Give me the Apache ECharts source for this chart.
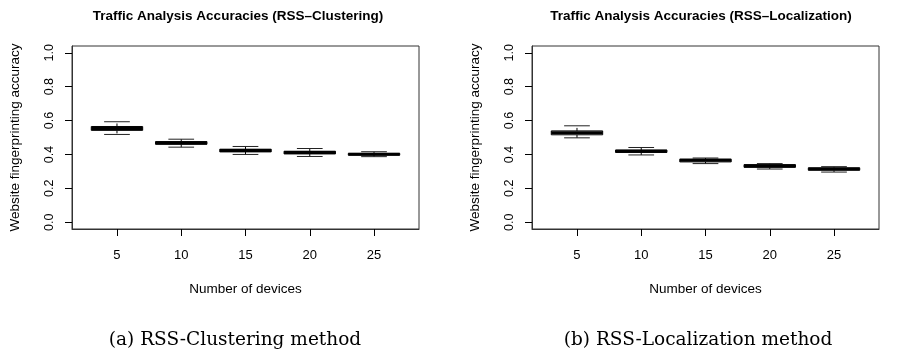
<!DOCTYPE html>
<html>
<head>
<meta charset="utf-8">
<script src="https://cdn.jsdelivr.net/npm/echarts@6/dist/echarts.min.js"></script>
<style>
  html, body { margin: 0; padding: 0; background: #fff; }
  #main { width: 905px; height: 355px; }
</style>
</head>
<body>
<div id="main"></div>
<script>
// x categories
const devices = ['5', '10', '15', '20', '25'];
const yTicks = [0, 0.2, 0.4, 0.6, 0.8, 1.0];

// RSS-Clustering: whisker low, Q1, median, Q3, whisker high
const clusterMin = [0.518, 0.443, 0.400, 0.388, 0.387];
const clusterQ1  = [0.542, 0.460, 0.415, 0.403, 0.396];
const clusterMed = [0.553, 0.468, 0.423, 0.411, 0.401];
const clusterQ3  = [0.565, 0.476, 0.431, 0.419, 0.406];
const clusterMax = [0.593, 0.490, 0.447, 0.435, 0.416];

// RSS-Localization
const localMin = [0.498, 0.397, 0.346, 0.314, 0.296];
const localQ1  = [0.516, 0.412, 0.356, 0.324, 0.307];
const localMed = [0.528, 0.419, 0.366, 0.332, 0.314];
const localQ3  = [0.539, 0.426, 0.372, 0.340, 0.321];
const localMax = [0.569, 0.441, 0.379, 0.346, 0.328];

const FONT = '"Liberation Sans", Arial, sans-serif';
const SERIF = '"DejaVu Serif", serif';

function rows(mn, q1, md, q3, mx) {
  return devices.map((d, i) => [i + 1, mn[i], q1[i], md[i], q3[i], mx[i]]);
}

// R style box: dashed whiskers, half-width staples, thick median
function renderBox(params, api) {
  let x = api.value(0);
  let lo = api.coord([x, api.value(1)]);
  let q1 = api.coord([x, api.value(2)]);
  let md = api.coord([x, api.value(3)]);
  let q3 = api.coord([x, api.value(4)]);
  let hi = api.coord([x, api.value(5)]);
  let bw = api.size([1, 0])[0] * 0.8;
  let cx = md[0];
  let thin = { stroke: '#222', lineWidth: 1 };
  return {
    type: 'group',
    children: [
      { type: 'line', shape: { x1: cx, y1: q3[1], x2: cx, y2: hi[1] }, style: { stroke: '#000', lineWidth: 1, lineDash: [3, 3] } },
      { type: 'line', shape: { x1: cx, y1: q1[1], x2: cx, y2: lo[1] }, style: { stroke: '#000', lineWidth: 1, lineDash: [3, 3] } },
      { type: 'line', shape: { x1: cx - bw / 4, y1: hi[1], x2: cx + bw / 4, y2: hi[1] }, style: thin },
      { type: 'line', shape: { x1: cx - bw / 4, y1: lo[1], x2: cx + bw / 4, y2: lo[1] }, style: thin },
      { type: 'rect', shape: { x: cx - bw / 2, y: q3[1], width: bw, height: q1[1] - q3[1] }, style: { fill: '#fff', stroke: '#000', lineWidth: 1 } },
      { type: 'line', shape: { x1: cx - bw / 2, y1: md[1], x2: cx + bw / 2, y2: md[1] }, style: { stroke: '#000', lineWidth: 3 } }
    ]
  };
}

function xAxisFor(idx) {
  return {
    gridIndex: idx,
    type: 'value',
    min: 0.3,
    max: 5.7,
    name: 'Number of devices',
    nameLocation: 'middle',
    nameGap: 53,
    nameTextStyle: { fontFamily: FONT, fontSize: 13.5, color: '#000' },
    axisLine: { show: true, onZero: false, lineStyle: { color: '#333', width: 1 } },
    axisTick: { show: true, length: 7, lineStyle: { color: '#000' }, customValues: [1, 2, 3, 4, 5] },
    axisLabel: {
      customValues: [1, 2, 3, 4, 5],
      formatter: v => devices[Math.round(v) - 1],
      margin: 20,
      fontFamily: FONT, fontSize: 13, color: '#000'
    },
    splitLine: { show: false }
  };
}

function yAxisFor(idx) {
  return {
    gridIndex: idx,
    type: 'value',
    min: -0.04,
    max: 1.04,
    name: 'Website fingerprinting accuracy',
    nameLocation: 'middle',
    nameGap: 50,
    nameTextStyle: { fontFamily: FONT, fontSize: 13.5, color: '#000' },
    axisLine: { show: true, onZero: false, lineStyle: { color: '#333', width: 1 } },
    axisTick: { show: true, length: 7, lineStyle: { color: '#000' }, customValues: yTicks },
    axisLabel: {
      customValues: yTicks,
      formatter: v => v.toFixed(1),
      rotate: 90,
      margin: 16,
      fontFamily: FONT, fontSize: 12.5, color: '#000'
    },
    splitLine: { show: false }
  };
}

let chart = echarts.init(document.getElementById('main'), null, { renderer: 'canvas' });

let option = {
  animation: false,
  backgroundColor: '#fff',
  title: [
    { text: 'Traffic Analysis Accuracies (RSS–Clustering)', left: 233, top: 4, textAlign: 'center',
      textStyle: { fontFamily: FONT, fontSize: 13.5, fontWeight: 'bold', color: '#000' } },
    { text: 'Traffic Analysis Accuracies (RSS–Localization)', left: 696, top: 4, textAlign: 'center',
      textStyle: { fontFamily: FONT, fontSize: 13.5, fontWeight: 'bold', color: '#000' } },
    { text: '(a) RSS-Clustering method', left: 230, top: 326, textAlign: 'center',
      textStyle: { fontFamily: SERIF, fontSize: 18.5, fontWeight: 'normal', color: '#000' } },
    { text: '(b) RSS-Localization method', left: 693, top: 326, textAlign: 'center',
      textStyle: { fontFamily: SERIF, fontSize: 18.5, fontWeight: 'normal', color: '#000' } }
  ],
  grid: [
    { left: 72, top: 46, width: 347, height: 183, show: true, borderColor: '#333', borderWidth: 1, backgroundColor: 'transparent' },
    { left: 532, top: 46, width: 347, height: 183, show: true, borderColor: '#333', borderWidth: 1, backgroundColor: 'transparent' }
  ],
  xAxis: [xAxisFor(0), xAxisFor(1)],
  yAxis: [yAxisFor(0), yAxisFor(1)],
  series: [
    {
      type: 'custom', xAxisIndex: 0, yAxisIndex: 0,
      renderItem: renderBox,
      encode: { x: 0, y: [1, 2, 3, 4, 5] },
      data: rows(clusterMin, clusterQ1, clusterMed, clusterQ3, clusterMax)
    },
    {
      type: 'custom', xAxisIndex: 1, yAxisIndex: 1,
      renderItem: renderBox,
      encode: { x: 0, y: [1, 2, 3, 4, 5] },
      data: rows(localMin, localQ1, localMed, localQ3, localMax)
    }
  ]
};

chart.setOption(option);
</script>
</body>
</html>
